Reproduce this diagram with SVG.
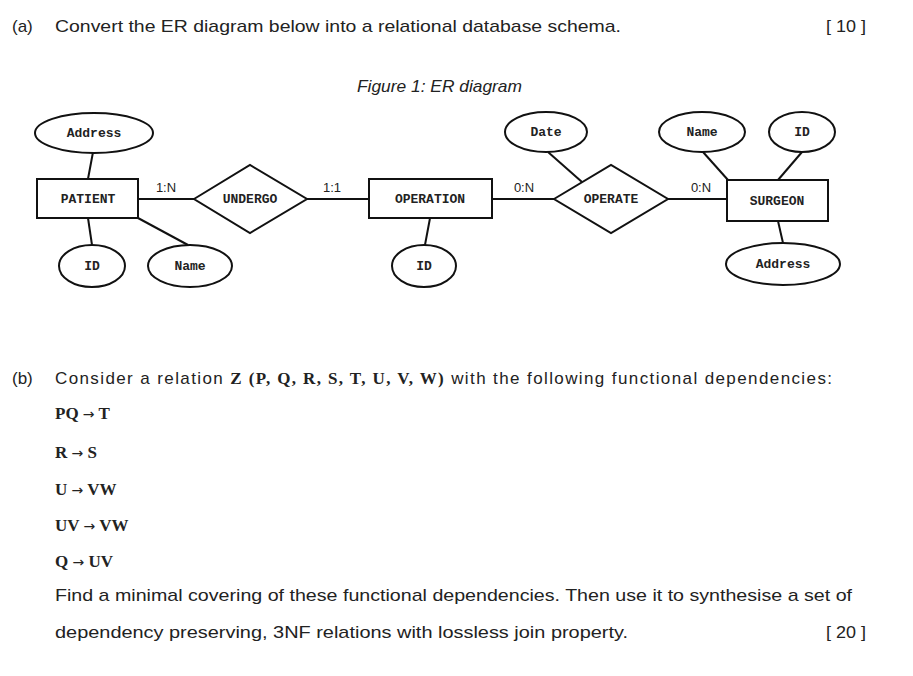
<svg xmlns="http://www.w3.org/2000/svg" width="913" height="676" viewBox="0 0 913 676">
<style>
.t{font-family:"Liberation Sans",Arial,sans-serif;font-size:17px;fill:#222}
.m{font-family:"Liberation Serif","Times New Roman",serif;font-weight:bold;font-size:17px;fill:#222}
.a{font-family:"DejaVu Sans",sans-serif;font-weight:normal;font-size:14px}
.s{fill:#fff;stroke:#111;stroke-width:2}
.l{stroke:#111;stroke-width:2;fill:none}
.c{font-family:"Liberation Mono","Courier New",monospace;font-weight:bold;font-size:13px;fill:#222;text-anchor:middle}
.k{font-family:"Liberation Sans",Arial,sans-serif;font-size:13px;fill:#222;text-anchor:middle}
</style>
<rect width="913" height="676" fill="#fff"/>
<text class="t" x="12" y="32">(a)</text>
<text class="t" x="55" y="32" textLength="566" lengthAdjust="spacingAndGlyphs">Convert the ER diagram below into a relational database schema.</text>
<text class="t" x="826" y="32" textLength="40" lengthAdjust="spacingAndGlyphs">[ 10 ]</text>
<text class="t" x="357" y="92" font-style="italic" font-size="15" textLength="165" lengthAdjust="spacingAndGlyphs">Figure 1: ER diagram</text>
<g id="connectors">
<line class="l" x1="93" y1="152" x2="88" y2="179"/>
<line class="l" x1="88" y1="218" x2="92" y2="245"/>
<line class="l" x1="138" y1="218" x2="188" y2="245"/>
<line class="l" x1="138" y1="199" x2="194" y2="199"/>
<line class="l" x1="307" y1="199" x2="369" y2="199"/>
<line class="l" x1="430" y1="218" x2="425" y2="245"/>
<line class="l" x1="492" y1="199" x2="554" y2="199"/>
<line class="l" x1="548" y1="152" x2="582" y2="182"/>
<line class="l" x1="668" y1="199" x2="727" y2="199"/>
<line class="l" x1="703" y1="152" x2="728" y2="180"/>
<line class="l" x1="802" y1="152" x2="778" y2="180"/>
<line class="l" x1="778" y1="221" x2="783" y2="243"/>
<text class="k" x="166" y="192">1:N</text>
<text class="k" x="332" y="192">1:1</text>
<text class="k" x="524" y="192">0:N</text>
<text class="k" x="701" y="192">0:N</text>
</g>
<g id="patient_address"><ellipse class="s" cx="94" cy="133" rx="59" ry="20"/><text class="c" x="94" y="137">Address</text></g>
<g id="patient"><rect class="s" x="37" y="179" width="101" height="39"/><text class="c" x="88" y="203">PATIENT</text></g>
<g id="patient_id"><ellipse class="s" cx="92" cy="266" rx="33" ry="21"/><text class="c" x="92" y="270">ID</text></g>
<g id="patient_name"><ellipse class="s" cx="190" cy="266" rx="42" ry="21"/><text class="c" x="190" y="270">Name</text></g>
<g id="undergo"><polygon class="s" points="194,199 250,165 307,199 250,233"/><text class="c" x="250" y="203">UNDERGO</text></g>
<g id="operation"><rect class="s" x="369" y="179" width="123" height="39"/><text class="c" x="430" y="203">OPERATION</text></g>
<g id="operation_id"><ellipse class="s" cx="424" cy="266" rx="32" ry="21"/><text class="c" x="424" y="270">ID</text></g>
<g id="date"><ellipse class="s" cx="546" cy="132" rx="41" ry="20"/><text class="c" x="546" y="136">Date</text></g>
<g id="operate"><polygon class="s" points="554,199 611,165 668,199 611,233"/><text class="c" x="611" y="203">OPERATE</text></g>
<g id="surgeon"><rect class="s" x="727" y="180" width="101" height="41"/><text class="c" x="777" y="205">SURGEON</text></g>
<g id="surgeon_name"><ellipse class="s" cx="702" cy="132" rx="43" ry="20"/><text class="c" x="702" y="136">Name</text></g>
<g id="surgeon_id"><ellipse class="s" cx="802" cy="132" rx="33" ry="20"/><text class="c" x="802" y="136">ID</text></g>
<g id="surgeon_address"><ellipse class="s" cx="783" cy="264" rx="57" ry="21"/><text class="c" x="783" y="268">Address</text></g>
<text class="t" x="12" y="384">(b)</text>
<text class="t" x="55" y="384" textLength="777" lengthAdjust="spacing">Consider a relation <tspan class="m">Z (P, Q, R, S, T, U, V, W)</tspan> with the following functional dependencies:</text>
<text class="m" x="55" y="419">PQ <tspan class="a">→</tspan> T</text>
<text class="m" x="55" y="458">R <tspan class="a">→</tspan> S</text>
<text class="m" x="55" y="495">U <tspan class="a">→</tspan> VW</text>
<text class="m" x="55" y="531">UV <tspan class="a">→</tspan> VW</text>
<text class="m" x="55" y="567">Q <tspan class="a">→</tspan> UV</text>
<text class="t" x="55" y="601" textLength="797" lengthAdjust="spacingAndGlyphs">Find a minimal covering of these functional dependencies. Then use it to synthesise a set of</text>
<text class="t" x="55" y="638" textLength="573" lengthAdjust="spacingAndGlyphs">dependency preserving, 3NF relations with lossless join property.</text>
<text class="t" x="826" y="638" textLength="40" lengthAdjust="spacingAndGlyphs">[ 20 ]</text>
</svg>
